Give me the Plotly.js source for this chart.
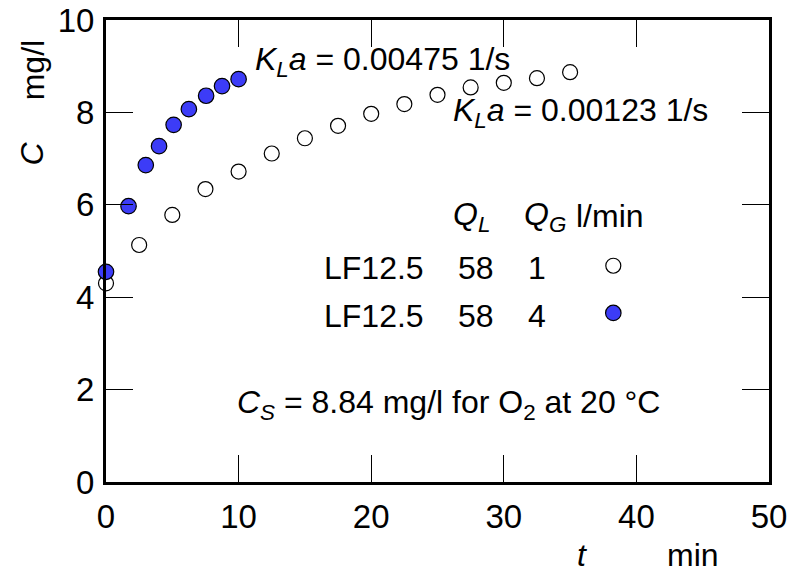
<!DOCTYPE html>
<html>
<head>
<meta charset="utf-8">
<script src="https://cdn.plot.ly/plotly-3.0.1.min.js"></script>
<style>html,body{margin:0;padding:0;background:#fff}#chart{width:789px;height:579px}</style>
</head>
<body>
<div id="chart"></div>
<script>
// Data
const tOpen = [0, 2.5, 5, 7.5, 10, 12.5, 15, 17.5, 20, 22.5, 25, 27.5, 30, 32.5, 35];
const cOpen = [4.30, 5.13, 5.78, 6.34, 6.72, 7.11, 7.44, 7.71, 7.97, 8.18, 8.38, 8.54, 8.64, 8.74, 8.87];
const tFilled = [0, 1.7, 3.0, 4.0, 5.1, 6.25, 7.55, 8.75, 10];
const cFilled = [4.55, 5.97, 6.86, 7.27, 7.73, 8.07, 8.36, 8.57, 8.72];
const xTicks = [0, 10, 20, 30, 40, 50];
const yTicks = [0, 2, 4, 6, 8, 10];

const FONT = "'Liberation Sans Narrow', 'Liberation Sans', Arial, sans-serif";
const BLUE = '#3c3cf7';
const FS = 32;

const traces = [
  {
    x: tOpen, y: cOpen, type: 'scatter', mode: 'markers', name: ' ',
    marker: {symbol: 'circle', size: 15, color: 'rgba(255,255,255,1)', line: {color: '#000', width: 1.2}},
    cliponaxis: false
  },
  {
    x: tFilled, y: cFilled, type: 'scatter', mode: 'markers', name: ' ',
    marker: {symbol: 'circle', size: 15.5, color: BLUE, line: {color: '#000', width: 1.2}},
    cliponaxis: false
  }
];

function ann(text, x, y, xanchor, extra) {
  return Object.assign({
    text: text, x: x, y: y, xref: 'x', yref: 'y', xanchor: xanchor || 'left', yanchor: 'middle',
    showarrow: false, font: {family: FONT, size: FS, color: '#000'}
  }, extra || {});
}
function pann(text, x, y, xanchor, angle) {
  return {text: text, xref: 'paper', yref: 'paper', x: x, y: y, xanchor: xanchor, yanchor: 'middle',
          textangle: angle || 0, showarrow: false, font: {family: FONT, size: FS, color: '#000'}};
}

const annotations = [
  ann('<i>K</i><sub><i>L</i></sub><i>a</i> = 0.00475 1/s', 11.1, 9.1, 'left'),
  ann('<i>K</i><sub><i>L</i></sub><i>a</i> = 0.00123 1/s', 26.0, 8.0, 'left'),
  ann('<i>Q</i><sub><i>L</i></sub>', 26.0, 5.75, 'left'),
  ann('<i>Q</i><sub><i>G</i></sub>', 31.35, 5.75, 'left'),
  ann('l/min', 35.3, 5.75, 'left'),
  ann('LF12.5', 16.3, 4.64, 'left'),
  ann('58', 27.9, 4.64, 'center'),
  ann('1', 32.5, 4.64, 'center'),
  ann('LF12.5', 16.3, 3.6, 'left'),
  ann('58', 27.9, 3.6, 'center'),
  ann('4', 32.5, 3.6, 'center'),
  ann('<i>C</i><sub><i>S</i></sub> = 8.84 mg/l for O<sub>2</sub> at 20 °C', 9.7, 1.68, 'left'),
  pann('<i>t</i>', 0.718, -0.158, 'center'),
  pann('min', 0.885, -0.158, 'center'),
  pann('<i>C</i>', -0.111, 0.712, 'center', -90),
  pann('mg/l', -0.111, 0.892, 'center', -90)
];

const axisCommon = {
  showgrid: false, zeroline: false, showline: true, linecolor: '#000', linewidth: 3,
  mirror: 'ticks', ticks: 'inside', ticklen: 27, tickwidth: 1.3, tickcolor: '#000',
  tickfont: {family: FONT, size: 33, color: '#000'}
};

const layout = {
  width: 789, height: 579,
  margin: {l: 106, r: 20, t: 20, b: 97, pad: 0},
  paper_bgcolor: '#fff', plot_bgcolor: '#fff',
  showlegend: true,
  legend: {x: 0.735, y: 0.53, xanchor: 'left', yanchor: 'top', bgcolor: 'rgba(0,0,0,0)',
           font: {family: FONT, size: 34}, tracegroupgap: 0, itemwidth: 30},
  xaxis: Object.assign({}, axisCommon, {range: [0, 50], tickvals: xTicks, ticktext: xTicks.map(String), ticklabelstandoff: 3}),
  yaxis: Object.assign({}, axisCommon, {range: [0, 10], tickvals: yTicks, ticktext: yTicks.map(String), ticklabelstandoff: 2}),
  annotations: annotations
};

Plotly.newPlot('chart', traces, layout, {displayModeBar: false, staticPlot: true});
</script>
</body>
</html>
